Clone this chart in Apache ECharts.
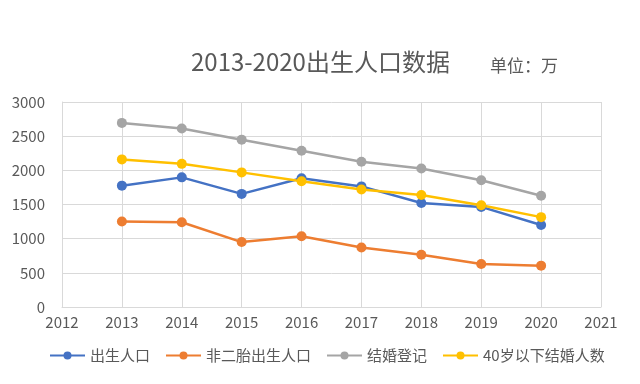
<!DOCTYPE html>
<html>
<head>
<meta charset="utf-8">
<script src="https://cdn.jsdelivr.net/npm/echarts@6/dist/echarts.min.js"></script>
<style>html,body{margin:0;padding:0;background:#fff;}#c{width:640px;height:384px;}</style>
</head>
<body>
<div id="c"></div>
<script>
const years = [2013, 2014, 2015, 2016, 2017, 2018, 2019, 2020];
const births = [1776, 1897, 1655, 1883, 1765, 1523, 1465, 1200];
const nonSecondBirths = [1250, 1240, 950, 1035, 870, 765, 630, 605];
const marriages = [2694, 2613, 2449, 2286, 2126, 2028, 1855, 1629];
const under40Marriages = [2160, 2095, 1970, 1840, 1720, 1640, 1490, 1315];
const seriesNames = ['出生人口', '非二胎出生人口', '结婚登记', '40岁以下结婚人数'];
const titleText = '2013-2020出生人口数据';
const unitText = '单位：万';

const colors = ['#4472C4', '#ED7D31', '#A5A5A5', '#FFC000'];
const font = '"Noto Sans CJK SC", "Noto Sans", sans-serif';
const txt = '#595959';

function pairs(vals) { return years.map((y, i) => [y, vals[i]]); }
const allVals = [births, nonSecondBirths, marriages, under40Marriages];

const chart = echarts.init(document.getElementById('c'));
chart.setOption({
  animation: false,
  backgroundColor: '#fff',
  color: colors,
  title: [
    { text: titleText, left: 186, top: 45, textStyle: { fontFamily: font, fontSize: 24, fontWeight: 'normal', color: txt } },
    { text: unitText, left: 485, top: 52, textStyle: { fontFamily: font, fontSize: 17, fontWeight: 'normal', color: txt } }
  ],
  legend: {
    bottom: 16, left: 44,
    itemWidth: 35, itemHeight: 10, itemGap: 15,
    textStyle: { fontFamily: font, fontSize: 15, color: txt },
    data: seriesNames
  },
  grid: { left: 62, right: 39, top: 102, bottom: 77, containLabel: false },
  xAxis: {
    type: 'value', min: 2012, max: 2021, interval: 1,
    axisLine: { show: true, lineStyle: { color: '#D9D9D9', width: 1 } },
    axisTick: { show: false },
    axisLabel: { fontFamily: font, fontSize: 15, color: txt, margin: 8, formatter: v => String(v) },
    splitLine: { show: true, lineStyle: { color: '#D9D9D9', width: 1 } }
  },
  yAxis: {
    type: 'value', min: 0, max: 3000, interval: 500,
    axisLine: { show: true, lineStyle: { color: '#D9D9D9', width: 1 } },
    axisTick: { show: false },
    axisLabel: { fontFamily: font, fontSize: 15, color: txt, margin: 17, formatter: v => String(v) },
    splitLine: { show: true, lineStyle: { color: '#D9D9D9', width: 1 } }
  },
  series: seriesNames.map((n, i) => ({
    name: n, type: 'line', data: pairs(allVals[i]),
    symbol: 'circle', symbolSize: 10,
    lineStyle: { width: 2.5, color: colors[i] },
    itemStyle: { color: colors[i] }
  }))
});
</script>
</body>
</html>
